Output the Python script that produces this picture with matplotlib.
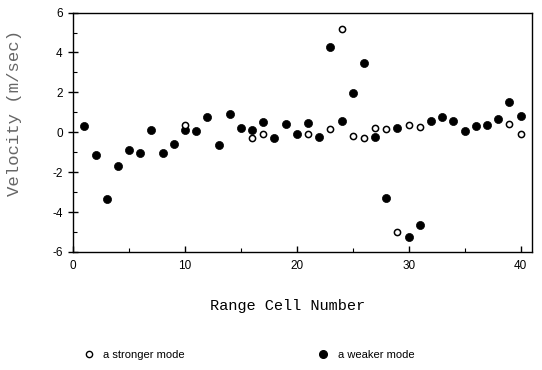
import matplotlib
matplotlib.use('Agg')
import matplotlib.pyplot as plt
from matplotlib.lines import Line2D

# range cells and velocities (m/sec)
weak_cells = list(range(1, 41))
weak_vel = [0.33, -1.15, -3.35, -1.7, -0.88, -1.03, 0.1, -1.03, -0.6, 0.13,
            0.07, 0.77, -0.63, 0.9, 0.22, 0.1, 0.52, -0.3, 0.4, -0.1,
            0.47, -0.23, 4.25, 0.58, 1.97, 3.48, -0.25, -3.28, 0.23, -5.25,
            -4.67, 0.57, 0.78, 0.58, 0.07, 0.3, 0.35, 0.68, 1.52, 0.83]

strong_cells = [10, 16, 17, 21, 23, 24, 25, 26, 27, 28, 29, 30, 31, 39, 40]
strong_vel = [0.35, -0.28, -0.1, -0.1, 0.18, 5.2, -0.2, -0.27, 0.23, 0.17,
              -5.02, 0.37, 0.28, 0.4, -0.1]

yticks = [-6, -4, -2, 0, 2, 4, 6]
yticklabels = ['-6', '-4', '-2', '0', '2', '4', '6']
xticks = [0, 10, 20, 30, 40]

mono = 'Liberation Mono'
sans = 'Liberation Sans'

fig = plt.figure(figsize=(5.42, 3.70), dpi=100)
ax = fig.add_axes([0.135, 0.319, 0.846, 0.647])

ax.scatter(weak_cells, weak_vel, s=34, c='black', edgecolors='black', linewidths=0.5, zorder=3)
ax.scatter(strong_cells, strong_vel, s=20, facecolors='white', edgecolors='black', linewidths=1.1, zorder=4)

ax.set_xlim(0, 41)
ax.set_ylim(-6, 6)
ax.set_xticks(xticks)
ax.set_xticks([5, 15, 25, 35], minor=True)
ax.set_yticks(yticks)
ax.set_yticklabels(yticklabels)
ax.set_yticks([-5, -3, -1, 1, 3, 5], minor=True)

ax.tick_params(axis='x', which='major', direction='in', length=4, width=1, pad=6, labelsize=8.5)
ax.tick_params(axis='x', which='minor', direction='in', length=3, width=0.8)
ax.tick_params(axis='y', which='major', direction='inout', length=7, width=1, pad=4, labelsize=8.5)
ax.tick_params(axis='y', which='minor', direction='in', length=3, width=0.8)
for lab in ax.get_xticklabels() + ax.get_yticklabels():
    lab.set_fontfamily(sans)

for sp in ax.spines.values():
    sp.set_linewidth(1.0)

ax.set_xlabel('Range Cell Number', fontfamily=mono, fontsize=11)
ax.xaxis.set_label_coords(0.468, -0.195)
ax.set_ylabel('Velocity (m/sec)', fontfamily=mono, fontsize=12.5, color='#666666')
ax.yaxis.set_label_coords(-0.112, 0.58)

# legend, one entry per column
h1 = Line2D([], [], ls='none', marker='o', ms=4.5, mfc='white', mec='black', mew=1.0)
h2 = Line2D([], [], ls='none', marker='o', ms=5.5, mfc='black', mec='black')
leg_kw = dict(frameon=False, handletextpad=0.8, handlelength=1.0,
              prop={'family': sans, 'size': 8}, loc='center left')
l1 = fig.legend([h1], ['a stronger mode'], bbox_to_anchor=(0.135, 0.04), **leg_kw)
l2 = fig.legend([h2], ['a weaker mode'], bbox_to_anchor=(0.568, 0.04), **leg_kw)

fig.savefig('out.png', dpi=100)
